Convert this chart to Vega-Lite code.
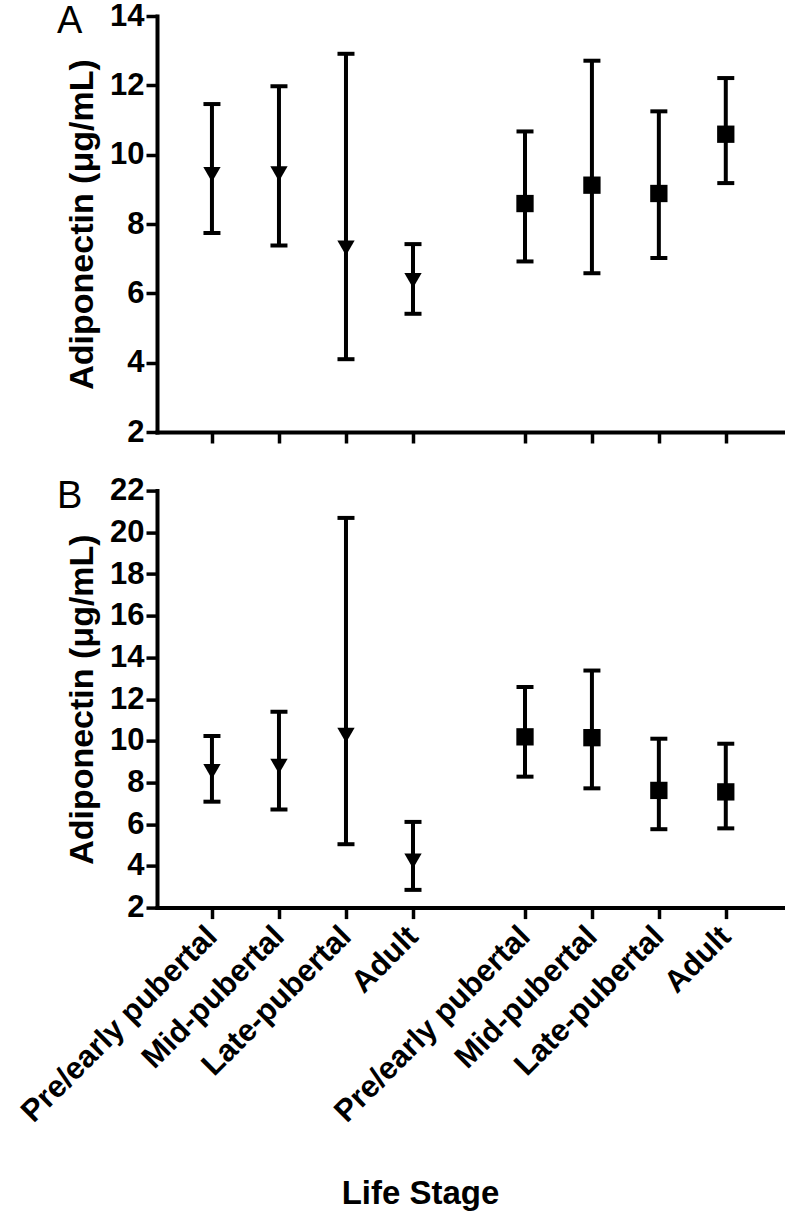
{
  "$schema": "https://vega.github.io/schema/vega-lite/v6.json",
  "padding": {"left": 15, "top": 0, "right": 2, "bottom": 2},
  "bounds": "flush",
  "spacing": 58.6,
  "background": "white",
  "config": {
    "font": "Liberation Sans",
    "view": {"stroke": null},
    "axis": {
      "domainColor": "black", "domainWidth": 4, "domainCap": "square",
      "tickColor": "black", "tickWidth": 3.5, "tickSize": 11,
      "labelFont": "Liberation Sans", "labelFontSize": 31, "labelFontWeight": "bold", "labelColor": "black",
      "labelOverlap": false, "labelLimit": 0, "labelBound": false,
      "titleFont": "Liberation Sans", "titleFontSize": 34, "titleFontWeight": "bold", "titleColor": "black",
      "grid": false
    },
    "title": {"font": "Liberation Sans", "fontSize": 38, "fontWeight": "normal", "color": "black", "anchor": "start", "frame": "group", "dx": -100, "offset": -41, "baseline": "alphabetic"}
  },
  "datasets": {
    "A": [
      {"slot": 1, "stage": "Pre/early pubertal", "group": "G1", "mean": 9.43, "lo": 7.74, "hi": 11.46},
      {"slot": 2, "stage": "Mid-pubertal", "group": "G1", "mean": 9.45, "lo": 7.38, "hi": 11.97},
      {"slot": 3, "stage": "Late-pubertal", "group": "G1", "mean": 7.31, "lo": 4.10, "hi": 12.91},
      {"slot": 4, "stage": "Adult", "group": "G1", "mean": 6.37, "lo": 5.41, "hi": 7.42},
      {"slot": 6, "stage": "Pre/early pubertal", "group": "G2", "mean": 8.59, "lo": 6.92, "hi": 10.67},
      {"slot": 7, "stage": "Mid-pubertal", "group": "G2", "mean": 9.12, "lo": 6.58, "hi": 12.71},
      {"slot": 8, "stage": "Late-pubertal", "group": "G2", "mean": 8.88, "lo": 7.02, "hi": 11.25},
      {"slot": 9, "stage": "Adult", "group": "G2", "mean": 10.59, "lo": 9.18, "hi": 12.21}
    ],
    "B": [
      {"slot": 1, "stage": "Pre/early pubertal", "group": "G1", "mean": 8.53, "lo": 7.08, "hi": 10.23},
      {"slot": 2, "stage": "Mid-pubertal", "group": "G1", "mean": 8.78, "lo": 6.71, "hi": 11.39},
      {"slot": 3, "stage": "Late-pubertal", "group": "G1", "mean": 10.27, "lo": 5.04, "hi": 20.69},
      {"slot": 4, "stage": "Adult", "group": "G1", "mean": 4.24, "lo": 2.85, "hi": 6.11},
      {"slot": 6, "stage": "Pre/early pubertal", "group": "G2", "mean": 10.19, "lo": 8.28, "hi": 12.58},
      {"slot": 7, "stage": "Mid-pubertal", "group": "G2", "mean": 10.15, "lo": 7.72, "hi": 13.37},
      {"slot": 8, "stage": "Late-pubertal", "group": "G2", "mean": 7.62, "lo": 5.76, "hi": 10.10},
      {"slot": 9, "stage": "Adult", "group": "G2", "mean": 7.55, "lo": 5.80, "hi": 9.86}
    ]
  },
  "vconcat": [
    {
      "width": 626,
      "height": 416,
      "title": {"text": "A"},
      "data": {"name": "A"},
      "encoding": {
        "x": {"field": "slot", "type": "quantitative",
          "scale": {"type": "linear", "domain": [0.18, 4, 6, 9.855], "range": [0, 256, 368, 626], "zero": false, "nice": false},
          "axis": {"values": [1, 2, 3, 4, 6, 7, 8, 9], "labels": false, "title": null}}
      },
      "layer": [
        {"mark": {"type": "rule", "strokeWidth": 4, "color": "black"},
         "encoding": {
           "y": {"field": "lo", "type": "quantitative",
             "scale": {"domain": [2, 14], "nice": false, "zero": false},
             "axis": {"values": [2, 4, 6, 8, 10, 12, 14], "title": "Adiponectin (μg/mL)", "titlePadding": 10}},
           "y2": {"field": "hi"}}},
        {"mark": {"type": "tick", "orient": "horizontal", "size": 17, "thickness": 4, "color": "black", "opacity": 1},
         "encoding": {"y": {"field": "hi", "type": "quantitative"}}},
        {"mark": {"type": "tick", "orient": "horizontal", "size": 17, "thickness": 4, "color": "black", "opacity": 1},
         "encoding": {"y": {"field": "lo", "type": "quantitative"}}},
        {"mark": {"type": "point", "filled": true, "opacity": 1, "color": "black", "size": 300},
         "encoding": {
           "y": {"field": "mean", "type": "quantitative"},
           "shape": {"field": "group", "type": "nominal", "scale": {"domain": ["G1", "G2"], "range": ["triangle-down", "square"]}, "legend": null}}}
      ]
    },
    {
      "width": 626,
      "height": 417,
      "title": {"text": "B"},
      "data": {"name": "B"},
      "encoding": {
        "x": {"field": "slot", "type": "quantitative",
          "scale": {"type": "linear", "domain": [0.18, 4, 6, 9.855], "range": [0, 256, 368, 626], "zero": false, "nice": false},
          "axis": {"values": [1, 2, 3, 4, 6, 7, 8, 9],
            "labelExpr": "['', 'Pre/early pubertal', 'Mid-pubertal', 'Late-pubertal', 'Adult', '', 'Pre/early pubertal', 'Mid-pubertal', 'Late-pubertal', 'Adult'][datum.value]",
            "labelAngle": -45, "labelAlign": "right", "labelBaseline": "middle", "labelPadding": 13,
            "title": "Life Stage", "titleFontSize": 33, "titleX": 263, "titleY": 296, "titleBaseline": "alphabetic"}}
      },
      "layer": [
        {"mark": {"type": "rule", "strokeWidth": 4, "color": "black"},
         "encoding": {
           "y": {"field": "lo", "type": "quantitative",
             "scale": {"domain": [2, 22], "nice": false, "zero": false},
             "axis": {"values": [2, 4, 6, 8, 10, 12, 14, 16, 18, 20, 22], "title": "Adiponectin (μg/mL)", "titlePadding": 10}},
           "y2": {"field": "hi"}}},
        {"mark": {"type": "tick", "orient": "horizontal", "size": 17, "thickness": 4, "color": "black", "opacity": 1},
         "encoding": {"y": {"field": "hi", "type": "quantitative"}}},
        {"mark": {"type": "tick", "orient": "horizontal", "size": 17, "thickness": 4, "color": "black", "opacity": 1},
         "encoding": {"y": {"field": "lo", "type": "quantitative"}}},
        {"mark": {"type": "point", "filled": true, "opacity": 1, "color": "black", "size": 300},
         "encoding": {
           "y": {"field": "mean", "type": "quantitative"},
           "shape": {"field": "group", "type": "nominal", "scale": {"domain": ["G1", "G2"], "range": ["triangle-down", "square"]}, "legend": null}}}
      ]
    }
  ]
}
